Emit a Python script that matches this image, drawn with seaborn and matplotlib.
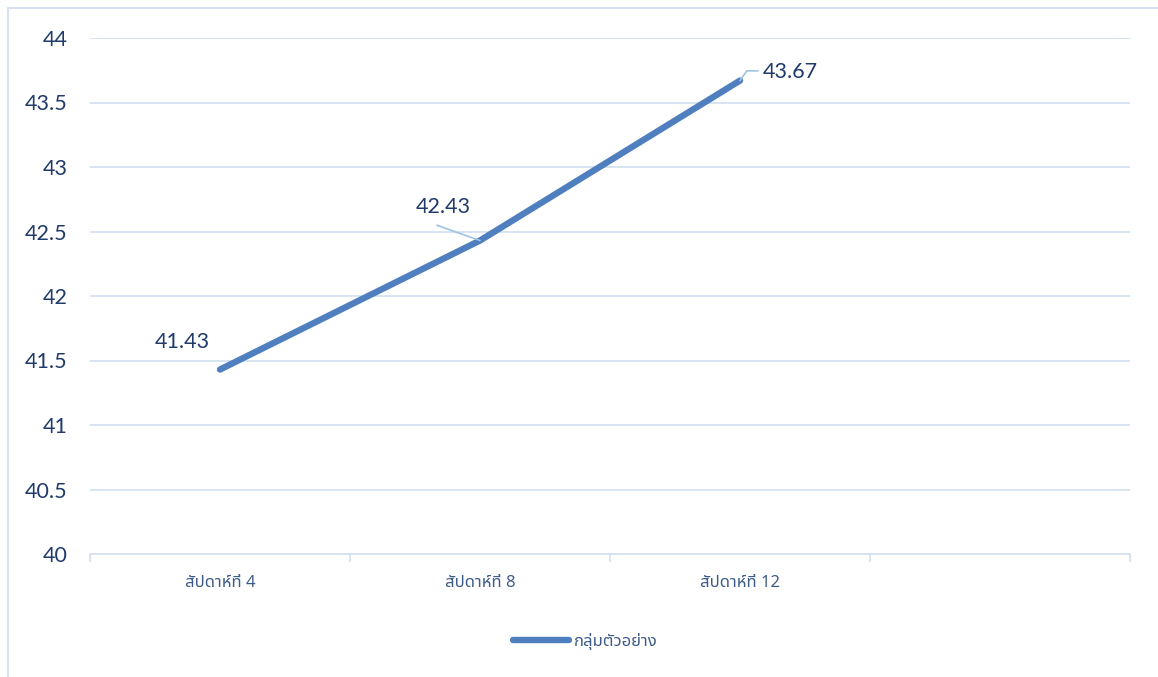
import matplotlib
matplotlib.use("Agg")
import matplotlib.pyplot as plt
from matplotlib.lines import Line2D
import seaborn as sns
import pandas as pd

categories = ["สัปดาห์ที่ 4", "สัปดาห์ที่ 8", "สัปดาห์ที่ 12"]
values = [41.43, 42.43, 43.67]
series_name = "กลุ่มตัวอย่าง"
y_ticks = [40, 40.5, 41, 41.5, 42, 42.5, 43, 43.5, 44]
y_tick_labels = ["40", "40.5", "41", "41.5", "42", "42.5", "43", "43.5", "44"]

sns.set_theme(style="white")
thai_fams = ["Noto Sans Thai", "Noto Sans Thai UI", "Loma", "Garuda", "Tlwg Typo",
             "Norasi", "Sarabun", "Noto Serif Thai", "DejaVu Sans"]
plt.rcParams["font.family"] = ["Lato"] + thai_fams

df = pd.DataFrame({"week": categories, "score": values, "group": series_name})

fig = plt.figure(figsize=(11.58, 6.77), dpi=100)
ax = fig.add_axes([90 / 1158, 1 - 554 / 677, 1040 / 1158, 516 / 677])

line_col = "#4F7FBE"
sns.lineplot(data=df, x="week", y="score", hue="group", palette=[line_col],
             linewidth=4.6, ax=ax, sort=False, legend=False,
             solid_capstyle="round")

ax.set_xlim(-0.5, 3.5)
ax.set_ylim(40, 44)
ax.set_yticks(y_ticks)
ax.set_yticklabels(y_tick_labels)
grid_col = "#D6E2F2"
ax.grid(axis="y", color=grid_col, linewidth=1.3)
ax.set_axisbelow(True)
for s in ["top", "right", "left"]:
    ax.spines[s].set_visible(False)
ax.spines["bottom"].set_color(grid_col)
ax.spines["bottom"].set_linewidth(1.3)

ax.set_xticks(range(len(categories)))
ax.set_xticklabels(categories, family=thai_fams, fontsize=12, color="#3E5C8A")
ax.tick_params(axis="x", which="major", length=0, pad=15)
ax.set_xticks([i - 0.5 for i in range(len(categories) + 2)], minor=True)
ax.tick_params(axis="x", which="minor", bottom=True, length=6, color=grid_col, width=1.3)
ax.tick_params(axis="y", length=0, pad=16, labelsize=15.5, labelcolor="#1F3A6B")
ax.set_xlabel("")
ax.set_ylabel("")

lbl_col = "#1F3A6B"
leader = "#9DC3E6"
fs = 15.5
ax.annotate(f"{values[0]:.2f}", xy=(0, values[0]), xytext=(-27, 19.5),
            textcoords="offset points", fontsize=fs, color=lbl_col,
            ha="center", va="center")
# leader + label for point 2
ax.annotate("", xy=(1, values[1]), xytext=(-31, 11), textcoords="offset points",
            arrowprops=dict(arrowstyle="-", color=leader, lw=1.2, shrinkA=0, shrinkB=0))
ax.annotate(f"{values[1]:.2f}", xy=(1, values[1]), xytext=(-26.5, 23.8),
            textcoords="offset points", fontsize=fs, color=lbl_col,
            ha="center", va="center")
# leader + label for point 3
ax.annotate("", xy=(2, values[2]), xytext=(13, 7), textcoords="offset points",
            arrowprops=dict(arrowstyle="-", color=leader, lw=1.2, shrinkA=0, shrinkB=0,
                            connectionstyle="angle,angleA=0,angleB=55,rad=0"))
ax.annotate(f"{values[2]:.2f}", xy=(2, values[2]), xytext=(36.5, 6.5),
            textcoords="offset points", fontsize=fs, color=lbl_col,
            ha="center", va="center")

# legend
handle = Line2D([0], [0], color=line_col, linewidth=4.6, solid_capstyle="round")
leg = fig.legend([handle], [series_name], loc="center", bbox_to_anchor=(585 / 1158, 1 - 641 / 677),
                 frameon=False, handlelength=3.4, handletextpad=0.25,
                 prop={"family": thai_fams, "size": 12})
for t in leg.get_texts():
    t.set_color("#3E5C8A")

# chart frame (partly cropped)
fc = "#D6E2F2"
fig.add_artist(Line2D([8 / 1158, 8 / 1158], [0, 1 - 8 / 677], color=fc, lw=1.5, transform=fig.transFigure))
fig.add_artist(Line2D([8 / 1158, 1], [1 - 8 / 677, 1 - 8 / 677], color=fc, lw=1.5, transform=fig.transFigure))

fig.savefig("out.png", dpi=100)
